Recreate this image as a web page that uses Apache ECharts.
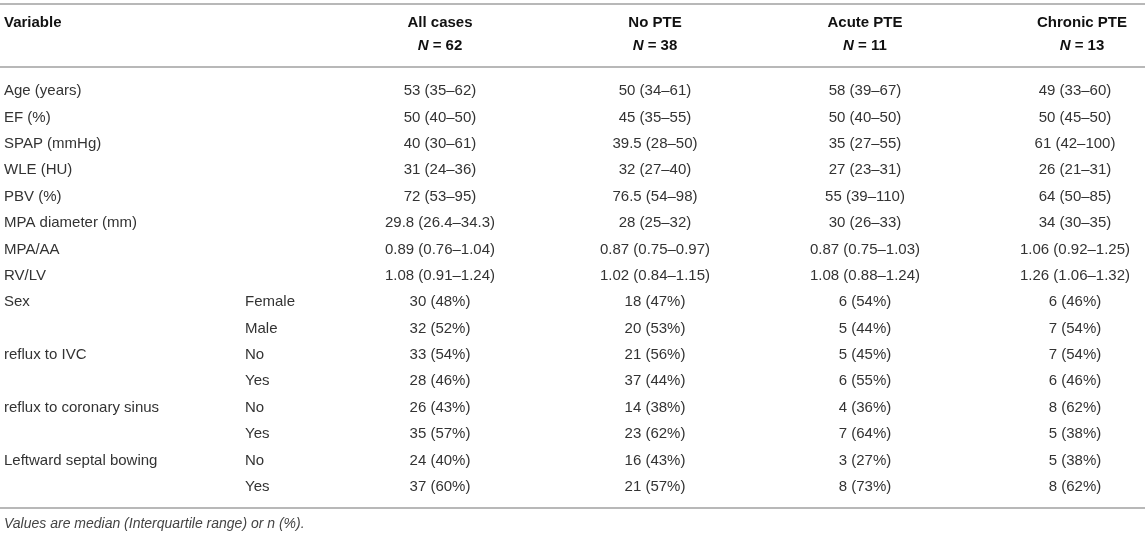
<!DOCTYPE html>
<html>
<head>
<meta charset="utf-8">
<script src="https://cdn.jsdelivr.net/npm/echarts@6/dist/echarts.min.js"></script>
<style>
  html, body { margin: 0; padding: 0; background: #fff; }
  #chart { width: 1145px; height: 535px; }
</style>
</head>
<body>
<div id="chart"></div>
<script>
// table data
const variables = ['Age (years)', 'EF (%)', 'SPAP (mmHg)', 'WLE (HU)', 'PBV (%)', 'MPA diameter (mm)',
    'MPA/AA', 'RV/LV', 'Sex', '', 'reflux to IVC', '', 'reflux to coronary sinus', '',
    'Leftward septal bowing', ''];
const levels = ['', '', '', '', '', '', '', '', 'Female', 'Male', 'No', 'Yes', 'No', 'Yes', 'No', 'Yes'];
const allCases = ['53 (35–62)', '50 (40–50)', '40 (30–61)', '31 (24–36)', '72 (53–95)', '29.8 (26.4–34.3)',
    '0.89 (0.76–1.04)', '1.08 (0.91–1.24)', '30 (48%)', '32 (52%)', '33 (54%)', '28 (46%)',
    '26 (43%)', '35 (57%)', '24 (40%)', '37 (60%)'];
const noPTE = ['50 (34–61)', '45 (35–55)', '39.5 (28–50)', '32 (27–40)', '76.5 (54–98)', '28 (25–32)',
    '0.87 (0.75–0.97)', '1.02 (0.84–1.15)', '18 (47%)', '20 (53%)', '21 (56%)', '37 (44%)',
    '14 (38%)', '23 (62%)', '16 (43%)', '21 (57%)'];
const acutePTE = ['58 (39–67)', '50 (40–50)', '35 (27–55)', '27 (23–31)', '55 (39–110)', '30 (26–33)',
    '0.87 (0.75–1.03)', '1.08 (0.88–1.24)', '6 (54%)', '5 (44%)', '5 (45%)', '6 (55%)',
    '4 (36%)', '7 (64%)', '3 (27%)', '8 (73%)'];
const chronicPTE = ['49 (33–60)', '50 (45–50)', '61 (42–100)', '26 (21–31)', '64 (50–85)', '34 (30–35)',
    '1.06 (0.92–1.25)', '1.26 (1.06–1.32)', '6 (46%)', '7 (54%)', '7 (54%)', '6 (46%)',
    '8 (62%)', '5 (38%)', '5 (38%)', '8 (62%)'];
const groups = ['All cases', 'No PTE', 'Acute PTE', 'Chronic PTE'];
const groupN = [62, 38, 11, 13];
const footnote = 'Values are median (Interquartile range) or n (%).';

// layout
const FONT = '"Liberation Sans", Arial, sans-serif';
const columns = [
    { values: variables, x: 4, align: 'left' },
    { values: levels, x: 245, align: 'left' },
    { values: allCases, x: 440, align: 'center' },
    { values: noPTE, x: 655, align: 'center' },
    { values: acutePTE, x: 865, align: 'center' },
    { values: chronicPTE, x: 1075, align: 'center' },
];
const headerX = [440, 655, 865, 1082];
const rowIds = variables.map(function (v, i) { return 'r' + i; });

let cellData = [];
columns.forEach(function (col, c) {
    col.values.forEach(function (txt, r) {
        if (txt) cellData.push([col.x, r, txt, c]);
    });
});

let chart = echarts.init(document.getElementById('chart'));

// rules and header texts
let graphics = [];
[4, 67, 508].forEach(function (y) {
    graphics.push({
        type: 'line', shape: { x1: 0, y1: y, x2: 1145, y2: y },
        style: { stroke: '#b8b8b8', lineWidth: 2 }, silent: true
    });
});
graphics.push({
    type: 'text', x: 4, y: 23,
    style: { text: 'Variable', font: 'bold 15px ' + FONT, fill: '#111', textAlign: 'left', textVerticalAlign: 'middle' }
});
groups.forEach(function (g, i) {
    graphics.push({
        type: 'text', x: headerX[i], y: 23,
        style: { text: g, font: 'bold 15px ' + FONT, fill: '#111', textAlign: 'center', textVerticalAlign: 'middle' }
    });
    graphics.push({
        type: 'text', x: headerX[i], y: 46,
        style: {
            text: '{i|N} = ' + groupN[i],
            font: 'bold 15px ' + FONT, fill: '#111', textAlign: 'center', textVerticalAlign: 'middle',
            rich: { i: { fontStyle: 'italic', fontWeight: 'bold', fontSize: 15, fontFamily: FONT, fill: '#111' } }
        }
    });
});
graphics.push({
    type: 'text', x: 4, y: 524,
    style: { text: footnote, font: 'italic 14px ' + FONT, fill: '#444', textAlign: 'left', textVerticalAlign: 'middle' }
});

const option = {
    animation: false,
    grid: { left: 0, right: 0, top: 78, bottom: 35 },
    xAxis: { type: 'value', min: 0, max: 1145, show: false },
    yAxis: { type: 'category', data: rowIds, inverse: true, show: false },
    graphic: graphics,
    series: [{
        type: 'custom',
        data: cellData,
        encode: { x: 0, y: 1 },
        renderItem: function (params, api) {
            let p = api.coord([api.value(0), api.value(1)]);
            let c = api.value(3);
            return {
                type: 'text',
                x: p[0], y: p[1],
                style: {
                    text: cellData[params.dataIndex][2],
                    font: '15px ' + FONT,
                    fill: '#333',
                    textAlign: columns[c].align,
                    textVerticalAlign: 'middle'
                }
            };
        }
    }]
};

chart.setOption(option);
</script>
</body>
</html>
